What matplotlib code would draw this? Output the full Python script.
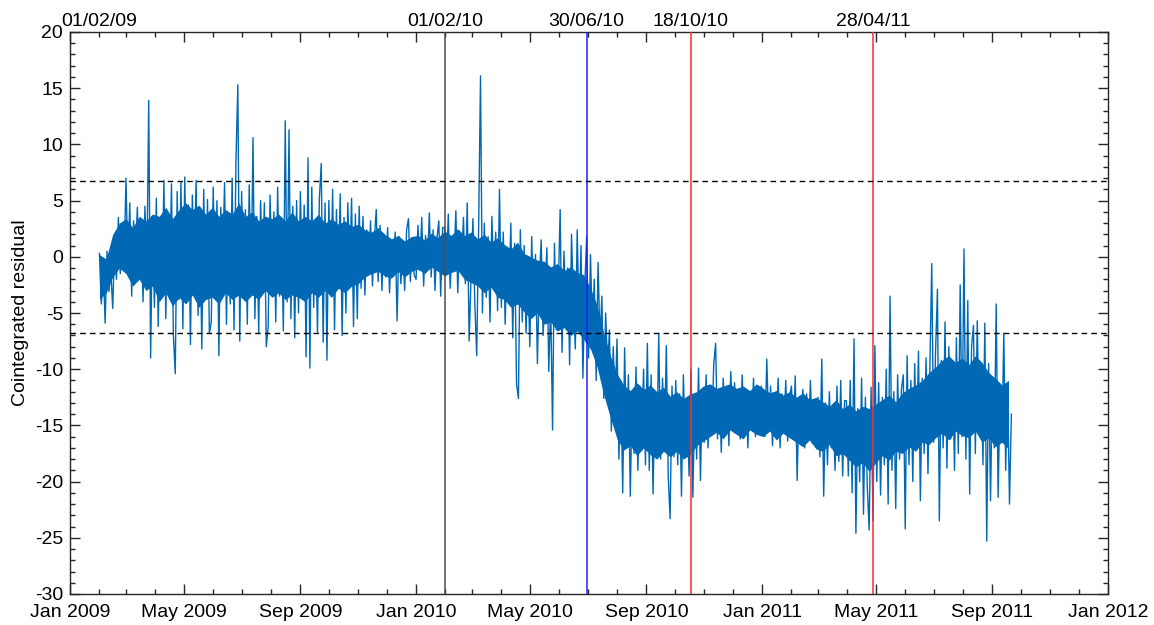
import numpy as np
import matplotlib
matplotlib.use("Agg")
import matplotlib.pyplot as plt
import matplotlib.dates as mdates
from matplotlib.ticker import MultipleLocator

plt.rcParams['font.family'] = ['Liberation Sans', 'DejaVu Sans']
plt.rcParams['axes.unicode_minus'] = False

# residual sampled every two days from 01/02/2009
start = np.datetime64('2009-02-01')
step_days = 2

res_2009 = [
    0.3, -4.2, -0.8, -5.9, 0.5, -3.1, -1.2, -4.6, 1.0, -2.0, 3.5, -1.5, 2.6, -0.8,
    7.0, -1.2, 4.8, -3.5, 3.2, 0.1, 4.4, -2.0, 2.1, -4.0, 4.5, -1.5, 13.9, -9.0, 3.6,
    -4.5, 5.2, -6.2, 2.5, -3.0, 6.8, -5.5, 4.0, -2.2, 6.5, -7.0, -10.4, 5.8, -3.8, 6.7,
    -6.4, 7.1, -2.5, 4.6, -7.8, 5.5, -1.0, 6.8, -5.2, 3.4, -8.2, 6.0, -3.6, 5.1, -6.8,
    -5.8, 6.2, -2.0, 5.0, -8.8, 4.4, -0.5, 6.6, -6.0, 3.8, -4.2, 7.0, -6.5, 8.5, 15.3,
    -7.5, 5.8, -3.0, 4.2, -6.0, 6.4, -2.8, 10.6, -5.5, 3.6, -6.8, 5.0, -1.5, 4.8, -8.0,
    -6.2, 5.5, -2.0, 4.0, -5.8, 6.2, -3.5, 2.8, -6.6, 12.1, -4.0, 11.3, -5.5, 4.5, -7.2, 5.0,
    -5.0, 5.8, -2.4, 4.6, -8.9, 8.8, -9.9, 6.2, -4.5, 3.0, -6.8, 5.2, 8.3, -7.6, 4.8,
    -9.2, 5.0, -3.5, 6.0, -6.5, 4.2, -2.0, 5.6, -7.0, 3.5, -5.0, 4.8, -1.5, 5.2, -6.2, 3.8,
    -5.5, 4.5, -2.8, 3.6, -3.4, 2.4, -1.2, 3.2, -2.6, 1.6, 4.2, -2.2, 2.8, -3.0, 2.0,
    -1.8, 2.6, -3.2, 1.4, -0.6, 2.2, -5.7, 1.8, -2.4, 0.8, -3.0, 2.4, 3.4, -2.2, 1.2, -1.6,
]

res_2010 = [
    -2.0, 2.8, -1.2, 3.5, -2.6, 1.9, -0.8, 3.9, -1.8, 2.4, -3.0, 1.6, 3.2, -3.5, 2.6,
    2.6, -1.5, 3.8, -2.8, 1.2, -0.6, 4.1, -3.2, 2.0, -1.0, 3.5, -2.4, 4.8, -7.5,
    -1.8, 3.4, -4.2, -8.8, 2.6, 16.1, -5.0, 3.0, -3.6, 1.8, -5.8, 3.6, -2.5, 2.2, -4.8,
    6.0, -4.5, 2.2, -6.0, 0.8, -3.2, 3.0, -7.2, 1.2, -11.3, -12.6, 2.4, -5.8, 1.0, -6.8,
    -1.5, -8.0, 1.8, -5.2, 0.2, -9.5, -2.0, 1.5, -7.0, -3.0, 0.8, -10.2, -4.0, -15.4, 1.2, -6.5,
    -3.0, 4.2, -8.5, 0.5, -5.2, -1.0, -9.6, 2.0, -4.0, -8.2, 2.4, -6.0, 1.0, -10.8, -2.5,
    1.8, -9.0, 0.2, -6.5, -2.0, -11.0, -0.5, -7.5, -3.5, -12.6, -5.0, -10.0, -6.5, -15.5, -8.0, -13.0,
    -7.3, -18.0, -11.0, -21.0, -8.1, -16.5, -10.5, -21.3, -12.0, -17.5, -9.8, -19.0, -11.5, -16.0, -10.0, -18.5,
    -7.7, -19.0, -10.5, -21.1, -12.0, -17.5, -6.8, -18.0, -10.8, -16.5, -7.9, -19.5, -23.3, -11.5, -17.8,
    -11.0, -18.5, -12.2, -21.3, -10.5, -17.0, -13.0, -19.5, -10.0, -21.4, -12.5, -18.0, -9.9, -19.9, -11.8, -16.5,
    -10.5, -17.0, -11.8, -15.5, -9.6, -7.7, -16.2, -12.0, -17.4, -10.8, -15.0, -12.5, -16.8, -10.2, -14.8,
    -11.2, -15.5, -12.8, -16.2, -10.5, -14.8, -11.8, -17.0, -12.2, -15.0, -10.8, -16.0, -13.0, -14.5, -11.5,
]

res_2011 = [
    -12.0, -16.0, -9.1, -15.2, -11.5, -16.8, -12.6, -14.8, -10.8, -17.0, -12.2, -15.5, -11.0, -16.4, -12.5,
    -11.5, -16.2, -10.6, -19.9, -12.6, -15.5, -11.8, -17.0, -12.2, -16.0, -11.0, -16.6, -13.0, -15.0,
    -12.5, -17.8, -9.1, -21.3, -13.0, -18.5, -12.0, -17.0, -13.5, -19.0, -11.5, -18.2, -11.0, -19.5, -12.8,
    -12.8, -19.5, -11.0, -21.0, -7.3, -24.6, -13.5, -20.0, -10.8, -22.9, -12.5, -20.5, -24.3, -11.6, -23.5,
    -7.9, -20.0, -11.2, -21.2, -12.5, -18.5, -10.0, -22.0, -3.5, -19.0, -12.0, -22.4, -10.5, -18.0, -11.8,
    -10.5, -24.2, -8.8, -18.5, -11.0, -20.0, -9.5, -16.8, -8.4, -21.7, -10.8, -17.5, -9.0, -19.3, -10.2,
    -0.6, -16.5, -8.5, -2.9, -23.5, -9.2, -17.0, -5.8, -18.8, -8.0, -16.2, -9.6, -19.0, -7.2, -17.5,
    -2.5, -16.0, 0.7, -18.0, -3.9, -21.1, -8.0, -6.1, -17.5, -5.7, -15.8, -9.5, -18.5, -5.9, -25.3,
    -9.5, -21.7, -10.8, -17.0, -4.2, -21.4, -12.0, -16.5, -6.8, -19.0, -11.3, -22.0, -14.0,
]

# weekly extent of the dense core, where the intraday samples pile up
core_step_days = 7
core_lo_2009 = [
    -3.8, -3.2, -1.8, -1.0, -1.5, -2.6, -2.0, -3.0, -2.6, -4.0, -3.2, -4.4, -3.6,
    -4.2, -3.4, -4.5, -3.8, -3.6, -4.2, -3.2, -3.8, -3.4, -4.0, -3.4, -3.8, -3.0,
    -3.6, -3.2, -3.8, -3.4, -3.6, -4.0, -3.2, -3.6, -3.0, -3.6, -2.8, -3.2, -2.6,
    -2.4, -1.8, -1.5, -1.3, -1.7, -1.9, -1.3, -1.8, -1.3,
]
core_hi_2009 = [
    0.2, -0.2, 2.0, 3.0, 3.4, 2.6, 3.6, 3.2, 3.8, 3.6, 4.4, 3.4, 4.2,
    4.8, 4.2, 4.6, 3.8, 4.4, 3.6, 4.2, 3.8, 4.8, 3.6, 4.0, 3.2, 3.6,
    3.4, 3.8, 3.2, 4.0, 3.2, 3.6, 3.2, 3.8, 3.0, 3.4, 2.9, 3.2, 2.7,
    2.9, 2.4, 2.2, 2.6, 2.0, 1.6, 1.9, 1.4, 1.8,
]
core_lo_2010 = [
    -1.1, -1.5, -0.9, -1.3, -1.7, -1.4, -1.2, -2.0, -2.3, -2.6, -3.2, -2.7, -3.6,
    -3.8, -4.5, -4.2, -4.9, -5.5, -5.0, -6.0, -5.8, -6.6, -6.3, -7.0, -6.6, -7.4,
    -8.2, -9.8, -12.3, -14.3, -16.2, -17.2, -16.8, -17.7, -17.0, -17.6, -18.0, -17.3, -17.8,
    -17.3, -18.0, -17.6, -16.8, -16.4, -16.0, -15.6, -16.2, -15.4, -15.8, -16.2, -15.4, -15.8,
]
core_hi_2010 = [
    1.9, 1.5, 2.1, 1.7, 2.3, 1.9, 2.5, 1.9, 2.2, 1.6, 2.0, 1.3, 1.7,
    1.1, 0.7, 1.3, 0.3, 0.0, -0.3, -0.4, -0.9, -0.6, -1.2, -0.9, -1.4, -1.6,
    -2.8, -4.3, -6.8, -8.8, -10.4, -11.4, -11.9, -11.2, -11.8, -11.4, -12.0, -11.6, -12.4,
    -12.0, -12.6, -12.2, -12.0, -11.5, -11.3, -11.7, -11.5, -11.3, -11.7, -11.5, -11.9, -11.3,
]
core_lo_2011 = [
    -16.0, -15.5, -16.3, -15.7, -16.1, -16.5, -16.9, -16.3, -17.1, -17.3, -16.7, -17.7, -17.5,
    -18.1, -18.7, -18.3, -19.1, -18.3, -17.7, -18.1, -17.3, -17.5, -16.9, -17.3, -16.5, -16.7,
    -16.1, -15.7, -16.3, -15.5, -15.9, -16.1, -15.5, -16.5, -16.1, -16.9, -16.5, -17.1,
]
core_hi_2011 = [
    -11.7, -12.1, -11.9, -12.3, -12.0, -12.5, -12.1, -12.7, -12.5, -12.9, -13.3, -12.7, -13.5,
    -13.1, -13.7, -13.3, -13.5, -13.1, -12.7, -12.3, -12.9, -12.1, -11.7, -11.4, -11.0, -10.3,
    -9.8, -9.2, -8.8, -9.4, -9.0, -9.6, -8.8, -9.4, -10.3, -10.8, -11.4, -11.0,
]

threshold = 6.77

event_dates = ['2010-02-01', '2010-06-30', '2010-10-18', '2011-04-28']
event_labels = ['01/02/10', '30/06/10', '18/10/10', '28/04/11']
event_colors = ['#4d4d4d', '#1f1fff', '#ff2a2a', '#ff2a2a']

blue = '#0068B5'

residual = np.array(res_2009 + res_2010 + res_2011)
dates = start + np.arange(len(residual)) * np.timedelta64(step_days, 'D')
core_lo = np.array(core_lo_2009 + core_lo_2010 + core_lo_2011)
core_hi = np.array(core_hi_2009 + core_hi_2010 + core_hi_2011)
core_dates = start + np.arange(len(core_lo)) * np.timedelta64(core_step_days, 'D')

fig = plt.figure(figsize=(11.54, 6.25), dpi=100)
ax = fig.add_axes([0.0607, 0.0496, 0.8995, 0.8992])

ax.fill_between(core_dates, core_lo, core_hi, color=blue, linewidth=0)
ax.plot(dates, residual, color=blue, linewidth=1.0)

for d, c in zip(event_dates, event_colors):
    ax.axvline(np.datetime64(d), color=c, linewidth=1.1, zorder=3)

for yv in (threshold, -threshold):
    ax.axhline(yv, color='black', linestyle=(0, (4, 3)), linewidth=1.0, zorder=3)

# labels above the top axis
trans = ax.get_xaxis_transform()
ax.text(start, 1.004, '01/02/09', transform=trans, ha='center', va='bottom', fontsize=14)
for d, lab in zip(event_dates, event_labels):
    ax.text(np.datetime64(d), 1.004, lab, transform=trans, ha='center', va='bottom', fontsize=14)

ax.set_xlim(np.datetime64('2009-01-01'), np.datetime64('2012-01-01'))
ax.set_ylim(-30, 20)

ax.xaxis.set_major_locator(mdates.MonthLocator(bymonth=[1, 5, 9]))
ax.xaxis.set_minor_locator(mdates.MonthLocator())
ax.xaxis.set_major_formatter(mdates.DateFormatter('%b %Y'))
ax.yaxis.set_major_locator(MultipleLocator(5))
ax.yaxis.set_minor_locator(MultipleLocator(1))

ax.tick_params(which='both', direction='in', top=True, right=True,
               colors='#262626', labelcolor='black', labelsize=14, width=1.0)
ax.tick_params(which='major', length=7.5)
ax.tick_params(axis='x', which='major', pad=7)
ax.tick_params(axis='y', which='major', pad=5)
ax.tick_params(which='minor', length=3.8)
for sp in ax.spines.values():
    sp.set_color('#262626')
    sp.set_linewidth(1.0)

ax.set_ylabel('Cointegrated residual', fontsize=14, labelpad=4)

fig.savefig('out.png', dpi=100)
